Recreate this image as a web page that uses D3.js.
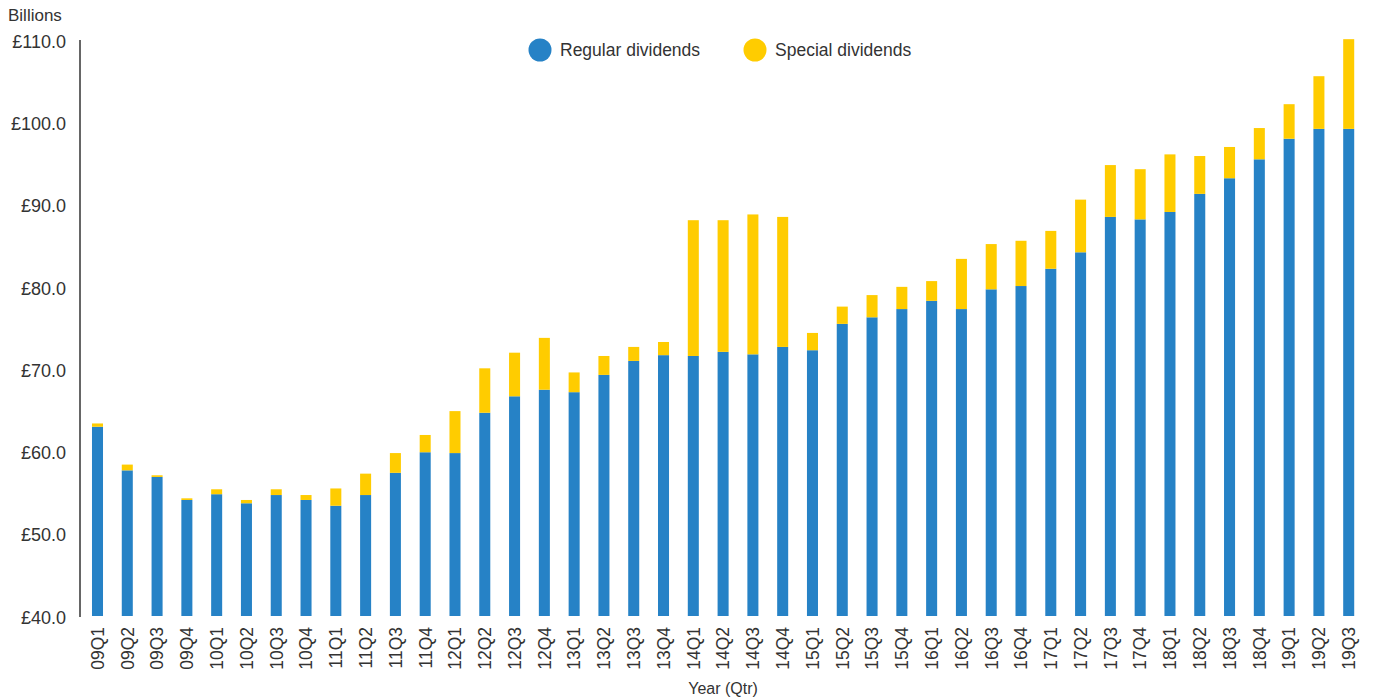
<!DOCTYPE html>
<html>
<head>
<meta charset="utf-8">
<script src="https://cdn.jsdelivr.net/npm/d3@7"></script>
<style>
  body { margin: 0; background: #fff; }
  svg text { font-family: "Liberation Sans", Arial, Helvetica, sans-serif; fill: #333; }
</style>
</head>
<body>
<svg id="chart" width="1375" height="700"></svg>
<script>
// quarters on the x axis
var quarters = ['09Q1','09Q2','09Q3','09Q4','10Q1','10Q2','10Q3','10Q4',
  '11Q1','11Q2','11Q3','11Q4','12Q1','12Q2','12Q3','12Q4',
  '13Q1','13Q2','13Q3','13Q4','14Q1','14Q2','14Q3','14Q4',
  '15Q1','15Q2','15Q3','15Q4','16Q1','16Q2','16Q3','16Q4',
  '17Q1','17Q2','17Q3','17Q4','18Q1','18Q2','18Q3','18Q4',
  '19Q1','19Q2','19Q3'];

// billions
var regular = [63.0, 57.7, 56.9, 54.1, 54.8, 53.7, 54.7, 54.1,
  53.4, 54.7, 57.4, 59.9, 59.8, 64.7, 66.7, 67.5,
  67.2, 69.3, 71.0, 71.7, 71.6, 72.1, 71.8, 72.7,
  72.3, 75.5, 76.3, 77.3, 78.3, 77.3, 79.7, 80.1,
  82.2, 84.2, 88.5, 88.2, 89.1, 91.3, 93.2, 95.5,
  98.0, 99.2, 99.2];

var special = [0.4, 0.7, 0.2, 0.2, 0.6, 0.4, 0.7, 0.6,
  2.1, 2.6, 2.4, 2.1, 5.1, 5.4, 5.3, 6.3,
  2.4, 2.3, 1.7, 1.6, 16.5, 16.0, 17.0, 15.8,
  2.1, 2.1, 2.7, 2.7, 2.4, 6.1, 5.5, 5.5,
  4.6, 6.4, 6.3, 6.1, 7.0, 4.6, 3.8, 3.8,
  4.2, 6.4, 10.9];

var yTicks = [40, 50, 60, 70, 80, 90, 100, 110];
var seriesNames = ['Regular dividends', 'Special dividends'];
var colors = ['#2682c6', '#ffcc00'];

var svg = d3.select('#chart');

var x = d3.scaleBand()
  .domain(quarters)
  .range([82.6, 1363.6])
  .paddingInner(0.63)
  .paddingOuter(0.315);

var y = d3.scaleLinear()
  .domain([40, 110])
  .range([616, 40]);

// stack regular + special, bars start at the axis floor (40)
var rows = quarters.map(function(q, i) {
  return { q: q, regular: regular[i], special: special[i] };
});
var stacked = d3.stack().keys(['regular', 'special'])(rows);

svg.selectAll('g.layer')
  .data(stacked)
  .enter().append('g')
    .attr('class', 'layer')
    .attr('fill', function(d, i) { return colors[i]; })
  .selectAll('rect')
  .data(function(d) { return d; })
  .enter().append('rect')
    .attr('x', function(d) { return x(d.data.q); })
    .attr('width', x.bandwidth())
    .attr('y', function(d) { return y(d[1]); })
    .attr('height', function(d) {
      var lo = Math.max(d[0], 40);
      return y(lo) - y(d[1]);
    });

// y axis
var yAxis = svg.append('g')
  .attr('transform', 'translate(80,0)')
  .call(d3.axisLeft(y)
    .tickValues(yTicks)
    .tickSize(0)
    .tickSizeOuter(0)
    .tickPadding(14)
    .tickFormat(function(d) { return '£' + d.toFixed(1); }));
yAxis.select('.domain').attr('stroke', '#333').attr('stroke-width', 1.5)
  .attr('d', 'M0,' + y(110) + 'V' + (y(40) + 1));
yAxis.selectAll('text')
  .style('font-size', '18px')
  .attr('dy', '0.4em');

svg.append('text')
  .attr('x', 8)
  .attr('y', 21)
  .style('font-size', '17px')
  .text('Billions');

// x axis labels
var xAxis = svg.append('g')
  .attr('transform', 'translate(0,616)')
  .call(d3.axisBottom(x).tickSize(0));
xAxis.select('.domain').remove();
xAxis.selectAll('text')
  .style('font-size', '17.5px')
  .style('text-anchor', 'end')
  .attr('transform', 'rotate(-90)')
  .attr('x', -11)
  .attr('y', 0)
  .attr('dy', '0.36em');

svg.append('text')
  .attr('x', 723)
  .attr('y', 694)
  .style('text-anchor', 'middle')
  .style('font-size', '16px')
  .text('Year (Qtr)');

// legend
var legendX = [540, 755];
var legend = svg.selectAll('g.legend')
  .data(seriesNames)
  .enter().append('g')
    .attr('class', 'legend')
    .attr('transform', function(d, i) { return 'translate(' + legendX[i] + ',50)'; });
legend.append('circle')
  .attr('r', 11.5)
  .attr('fill', function(d, i) { return colors[i]; });
legend.append('text')
  .attr('x', 20)
  .attr('dy', '0.35em')
  .style('font-size', '17.5px')
  .text(function(d) { return d; });
</script>
</body>
</html>
